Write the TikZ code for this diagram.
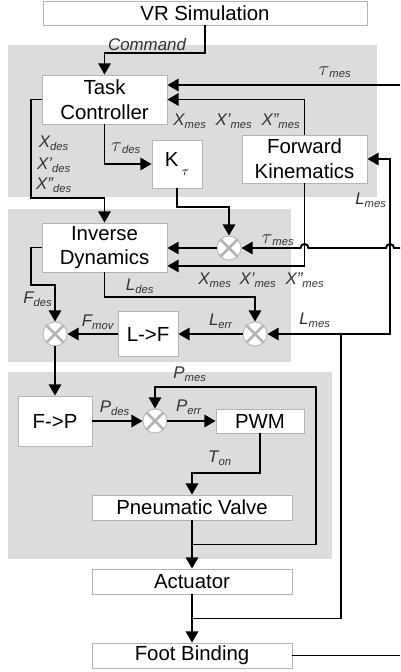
\documentclass[tikz,border=0pt]{standalone}
\usepackage{fontspec}
\setmainfont{Liberation Sans}
\usepackage{tikz}
\usetikzlibrary{arrows.meta,calc}
\definecolor{PanelGray}{HTML}{DCDCDC}
\definecolor{BoxEdge}{HTML}{B4B4B4}
\definecolor{LabelGray}{HTML}{333333}
\newcommand{\lab}[2]{#1\textsubscript{#2}}
\newcommand{\tauv}{{\fontsize{15}{15}\selectfont$\tau$}}

\begin{document}
\begin{tikzpicture}[x=0.25mm, y=-0.25mm,
  blk/.style={draw=BoxEdge, line width=0.6pt, fill=white, align=center, inner sep=0pt, font=\fontsize{14.5}{17.5}\selectfont},
  mult/.style={circle, draw=BoxEdge, line width=0.6pt, fill=white, minimum size=6mm, inner sep=0pt,
    path picture={\draw[line width=1.8pt] (path picture bounding box.north west) -- (path picture bounding box.south east)
      (path picture bounding box.north east) -- (path picture bounding box.south west);}},
  lbl/.style={text=LabelGray, inner sep=0pt, font=\fontsize{12}{14}\selectfont\itshape},
  flow/.style={line width=1.4pt, -{Triangle[length=2.8mm, width=3.1mm]}},
  wire/.style={line width=1.4pt}]
\useasboundingbox (0,0) rectangle (400,672);
\fill[PanelGray] (8,45) rectangle (377,197);
\fill[PanelGray] (8,209) rectangle (291,362);
\fill[PanelGray] (8,372) rectangle (332,559);

\node[blk, minimum width=81mm, minimum height=6mm] (vr) at (205,13) {VR Simulation};
\node[blk, minimum width=31.25mm, minimum height=12.25mm] (tc) at (104.5,99.5) {Task\\Controller};
\node[blk, minimum width=12.5mm, minimum height=12mm] (kt) at (177,164) {K\,\raisebox{-0.9ex}{\small$\tau$}};
\node[blk, minimum width=31.25mm, minimum height=12mm] (fk) at (304.5,159) {Forward\\Kinematics};
\node[blk, minimum width=31.25mm, minimum height=12.25mm] (id) at (104.5,247.5) {Inverse\\Dynamics};
\node[mult] (m1) at (229,248) {};
\node[mult] (m2) at (255,334) {};
\node[mult] (m3) at (55,334) {};
\node[blk, minimum width=15mm, minimum height=11.25mm] (lf) at (148,334) {L->F};
\node[blk, minimum width=18.5mm, minimum height=12.5mm] (fp) at (55,421) {F->P};
\node[mult] (m4) at (155,421) {};
\node[blk, minimum width=22mm, minimum height=6mm] (pwm) at (260,421) {PWM};
\node[blk, minimum width=50mm, minimum height=6.25mm] (pv) at (192,507.5) {Pneumatic Valve};
\node[blk, minimum width=50mm, minimum height=6.25mm] (act) at (192,581.5) {Actuator};
\node[blk, minimum width=50mm, minimum height=6.25mm] (fb) at (192,655.5) {Foot Binding};

\coordinate (tau1) at (400,85);
\coordinate (tau2) at (400,248);
\coordinate (xd) at (31,198);
\coordinate (fd) at (31,285);
\coordinate (pc) at (316,387);
\coordinate (ls) at (341,334);
\coordinate (lr) at (390,334);
\coordinate (fbo) at (400,655.5);
\coordinate (pb) at ($(pv.south)!0.5!(act.north)$);
\coordinate (ab) at ($(act.south)!0.5!(fb.north)$);

\draw[flow] (vr.south) -- ++(0,28) -| (tc.north);
\draw[flow] (tau1) -- (tau1 -| tc.east);
\draw[flow] (fk.north) |- (tc.east);
\draw[flow] (tc.south) |- (kt.west);
\draw[flow] (tc.west) -| (xd) -| (id.north);
\draw[flow] (kt.south) -- ++(0,19) -| (m1.north);
\draw[flow] (tau2) -- ([xshift=1mm]tau2 -| lr) arc[start angle=0, end angle=180, radius=1mm]
  -- ([xshift=1mm]tau2 -| fk.south) arc[start angle=0, end angle=180, radius=1mm] -- (m1.east);
\draw[flow] (m1.west) -- (m1.west -| id.east);
\draw[flow] (fk.south) |- ([yshift=-4.6mm]id.east);
\draw[flow] (id.south) -- ++(0,25) -| (m2.north);
\draw[flow] (id.west) -| (fd) -| (m3.north);
\draw[flow] (m2.west) -- (lf.east);
\draw[flow] (lf.west) -- (m3.east);
\draw[flow] (m3.south) -- (fp.north);
\draw[flow] (fp.east) -- (m4.west);
\draw[flow] (m4.east) -- (pwm.west);
\draw[flow] (pwm.south) -- ++(0,40) -| (pv.north);
\draw[flow] (pv.south) -- (act.north);
\draw[flow] (pb) -| (pc) -| (m4.north);
\draw[flow] (act.south) -- (fb.north);
\draw[flow] (ab) -| (ls) -- (m2.east);
\draw[flow] (ls) -- (lr) |- (fk.east);
\draw[line width=0.8pt] (fb.east) -- (fbo);

\node[lbl] (lcmd) at (147,44) {Command};
\node[lbl] (ltau1) at (335,72) {\lab{\tauv}{mes}};
\node[lbl] (lx1) at (190,121) {\lab{X}{mes}};
\node[lbl] (lx2) at (234,121) {\lab{X'}{mes}};
\node[lbl] (lx3) at (281,121) {\lab{X''}{mes}};
\node[lbl] (ltaud) at (126,148) {\lab{\tauv}{des}};
\node[lbl] (lxd1) at (54,143) {\lab{X}{des}};
\node[lbl] (lxd2) at (54,165) {\lab{X'}{des}};
\node[lbl] (lxd3) at (54,185) {\lab{X''}{des}};
\node[lbl] (llm1) at (371,200) {\lab{L}{mes}};
\node[lbl] (ltau2) at (278,240) {\lab{\tauv}{mes}};
\node[lbl] (lx4) at (215,280) {\lab{X}{mes}};
\node[lbl] (lx5) at (258,280) {\lab{X'}{mes}};
\node[lbl] (lx6) at (305,280) {\lab{X''}{mes}};
\node[lbl] (lld) at (140,286) {\lab{L}{des}};
\node[lbl] (lfd) at (38,299) {\lab{F}{des}};
\node[lbl] (lfm) at (98,322) {\lab{F}{mov}};
\node[lbl] (lle) at (221,321) {\lab{L}{err}};
\node[lbl] (llm2) at (315,320) {\lab{L}{mes}};
\node[lbl] (lpm) at (190,374) {\lab{P}{mes}};
\node[lbl] (lpd) at (115,408) {\lab{P}{des}};
\node[lbl] (lpe) at (189,407) {\lab{P}{err}};
\node[lbl] (lton) at (220,458) {\lab{T}{on}};
\end{tikzpicture}
\end{document}
